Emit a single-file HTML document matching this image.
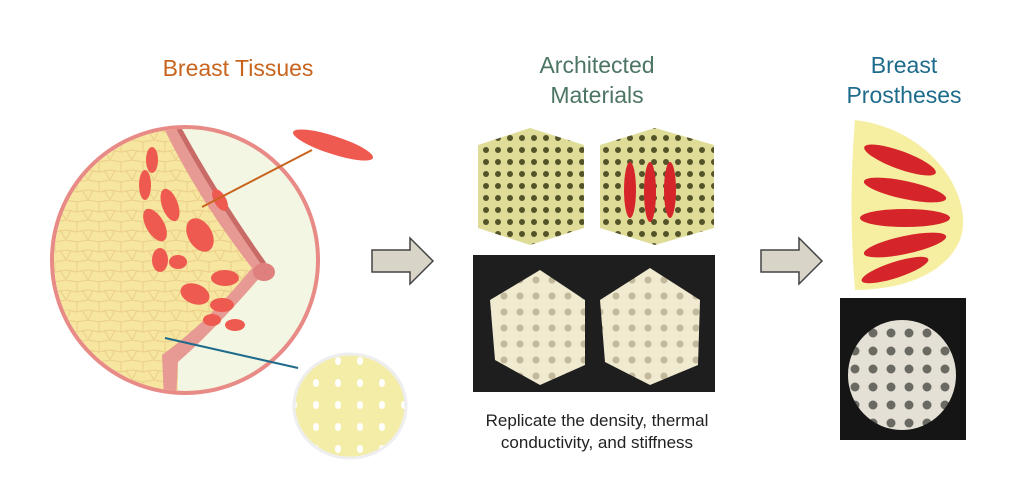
<!DOCTYPE html>
<html><head><style>
body{margin:0;background:#fff;width:1024px;height:478px;overflow:hidden;font-family:"Liberation Sans",sans-serif}
</style></head><body>
<svg width="1024" height="478" viewBox="0 0 1024 478" xmlns="http://www.w3.org/2000/svg">
<defs>
<pattern id="cells" width="22" height="20" patternUnits="userSpaceOnUse">
<rect width="22" height="20" fill="#f6e6a0"/>
<path d="M0 0 L11 2 L22 0 M11 2 L11 12 L0 10 M11 12 L22 10 M0 20 L5 10 M22 20 L16 10" stroke="#ebcf88" stroke-width="1" fill="none"/>
</pattern>
<pattern id="lat" width="12" height="12" patternUnits="userSpaceOnUse">
<rect width="12" height="12" fill="#dedc96"/>
<circle cx="6" cy="6" r="3" fill="#55532a"/>
</pattern>
<pattern id="holes" width="22" height="22" patternUnits="userSpaceOnUse">
<rect width="22" height="22" fill="#f3eda8"/>
<ellipse cx="8" cy="9" rx="3" ry="4" fill="#fff"/>
</pattern>
<pattern id="photo" width="16" height="16" patternUnits="userSpaceOnUse">
<rect width="16" height="16" fill="#f0ead0"/>
<circle cx="8" cy="8" r="3.5" fill="#c2b99c"/>
</pattern>
<pattern id="photo2" width="18" height="18" patternUnits="userSpaceOnUse">
<rect width="18" height="18" fill="#e4e0d6"/>
<circle cx="9" cy="9" r="4.5" fill="#6a6a62"/>
</pattern>
<clipPath id="big"><circle cx="185" cy="260" r="131"/></clipPath>
</defs>

<text x="238" y="76" text-anchor="middle" font-size="23" fill="#c8641e">Breast Tissues</text>
<text x="597" y="73" text-anchor="middle" font-size="23" fill="#4d7564">Architected</text>
<text x="597" y="103" text-anchor="middle" font-size="23" fill="#4d7564">Materials</text>
<text x="904" y="73" text-anchor="middle" font-size="23" fill="#1e6b8c">Breast</text>
<text x="904" y="103" text-anchor="middle" font-size="23" fill="#1e6b8c">Prostheses</text>

<circle cx="185" cy="260" r="133" fill="#f2f6e2" stroke="#e88a86" stroke-width="4"/>
<g clip-path="url(#big)">
<path d="M50 120 L172 120 Q210 190 268 268 Q215 330 178 362 L178 400 L50 400 Z" fill="url(#cells)"/>
<path d="M172 120 Q210 190 268 268 Q215 330 178 362 L176 400 L164 400 L162 355 Q210 320 252 268 Q195 195 160 120 Z" fill="#e79a94"/>
<path d="M177 125 Q215 195 264 264" stroke="#c86a66" stroke-width="5" fill="none"/>
</g>
<g fill="#ef5a50">
<ellipse cx="152" cy="160" rx="6" ry="13"/>
<ellipse cx="145" cy="185" rx="6" ry="15"/>
<ellipse cx="170" cy="205" rx="8" ry="17" transform="rotate(-20 170 205)"/>
<ellipse cx="155" cy="225" rx="9" ry="18" transform="rotate(-30 155 225)"/>
<ellipse cx="200" cy="235" rx="12" ry="18" transform="rotate(-30 200 235)"/>
<ellipse cx="160" cy="260" rx="8" ry="12"/>
<ellipse cx="178" cy="262" rx="9" ry="7"/>
<ellipse cx="195" cy="294" rx="15" ry="10" transform="rotate(20 195 294)"/>
<ellipse cx="225" cy="278" rx="14" ry="8"/>
<ellipse cx="222" cy="305" rx="12" ry="7"/>
<ellipse cx="212" cy="320" rx="9" ry="6"/>
<ellipse cx="235" cy="325" rx="10" ry="6"/>
<ellipse cx="220" cy="200" rx="6" ry="12" transform="rotate(-30 220 200)"/>
</g>
<ellipse cx="264" cy="272" rx="11" ry="9" fill="#e0807e"/>
<ellipse cx="333" cy="145" rx="42" ry="9" fill="#ef5a50" transform="rotate(18 333 145)"/>
<line x1="202" y1="207" x2="312" y2="150" stroke="#c8641e" stroke-width="2"/>
<line x1="165" y1="338" x2="298" y2="368" stroke="#1e6b8c" stroke-width="2"/>
<ellipse cx="350" cy="406" rx="56" ry="52" fill="url(#holes)" stroke="#eee" stroke-width="3"/>

<path d="M372 250 H410 V238 L433 261 L410 284 V272 H372 Z" fill="#d8d4c8" stroke="#444" stroke-width="1.5"/>
<path d="M761 250 H799 V238 L822 261 L799 284 V272 H761 Z" fill="#d8d4c8" stroke="#444" stroke-width="1.5"/>

<path d="M478 145 L530 128 L584 145 L584 228 L530 245 L478 228 Z" fill="url(#lat)"/>
<path d="M600 145 L655 128 L714 145 L714 228 L655 245 L600 228 Z" fill="url(#lat)"/>
<ellipse cx="630" cy="190" rx="6" ry="28" fill="#d6252a"/>
<ellipse cx="650" cy="192" rx="6" ry="30" fill="#d6252a"/>
<ellipse cx="670" cy="190" rx="6" ry="28" fill="#d6252a"/>

<rect x="473" y="255" width="242" height="137" fill="#1e1e1e"/>
<path d="M490 300 L540 270 L585 300 L585 365 L540 385 L495 360 Z" fill="url(#photo)"/>
<path d="M600 300 L650 268 L700 300 L698 365 L650 385 L605 362 Z" fill="url(#photo)"/>

<text x="597" y="426" text-anchor="middle" font-size="17" fill="#222">Replicate the density, thermal</text>
<text x="597" y="448" text-anchor="middle" font-size="17" fill="#222">conductivity, and stiffness</text>

<path d="M855 120 C935 130 975 200 960 240 C945 275 900 290 855 290 Q848 205 855 120 Z" fill="#f6eea0"/>
<g fill="#d6252a">
<ellipse cx="900" cy="160" rx="38" ry="9" transform="rotate(20 900 160)"/>
<ellipse cx="905" cy="190" rx="42" ry="9" transform="rotate(12 905 190)"/>
<ellipse cx="905" cy="218" rx="45" ry="9"/>
<ellipse cx="905" cy="245" rx="42" ry="9" transform="rotate(-12 905 245)"/>
<ellipse cx="895" cy="270" rx="35" ry="8" transform="rotate(-18 895 270)"/>
</g>
<rect x="840" y="298" width="126" height="142" fill="#151515"/>
<ellipse cx="902" cy="375" rx="54" ry="55" fill="url(#photo2)"/>
</svg>
</body></html>
